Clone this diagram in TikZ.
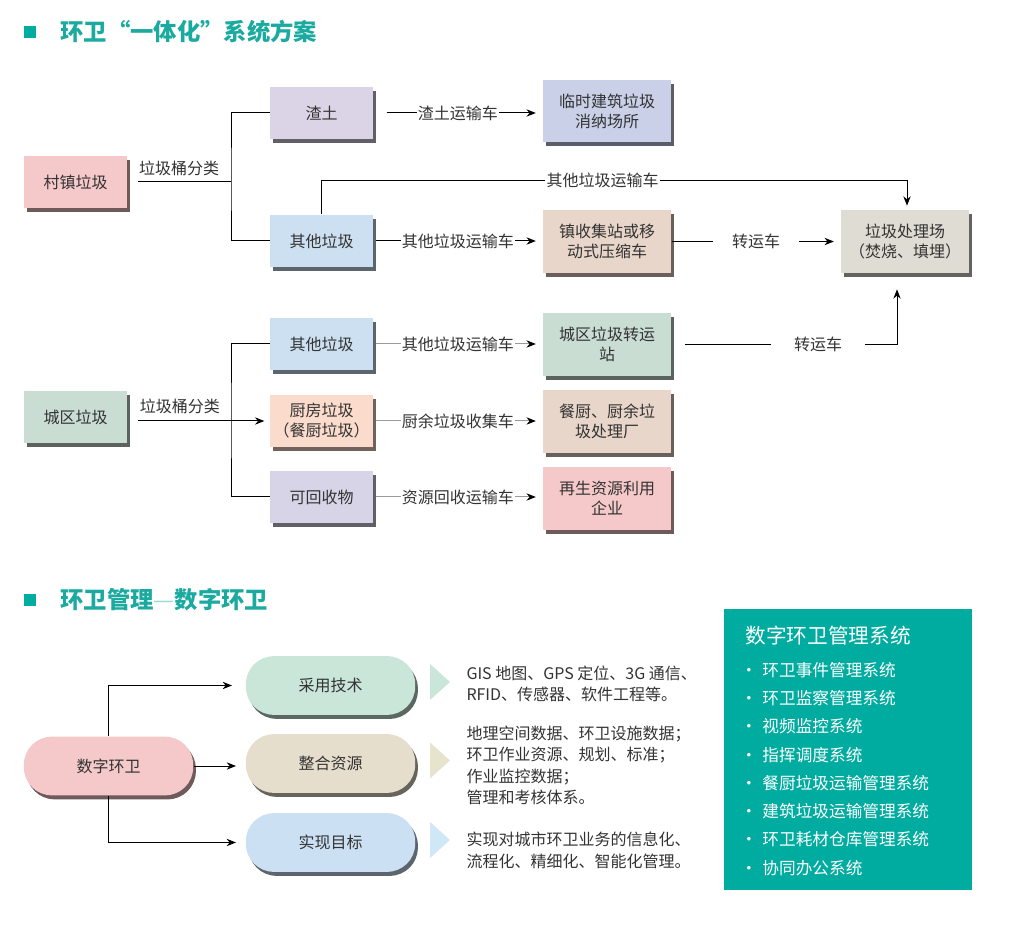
\documentclass[tikz,border=0pt]{standalone}
\usepackage{fontspec}
\setmainfont{Noto Sans CJK SC}
\usetikzlibrary{arrows.meta, positioning, shadows}
\definecolor{HWteal}{HTML}{00ACA0}
\definecolor{HWtitle}{HTML}{1AAA9F}
\definecolor{HWtext}{HTML}{333333}
\definecolor{HWline}{HTML}{9A9A9A}
\definecolor{HWpink}{HTML}{F5C9C9}
\definecolor{HWlilac}{HTML}{DBD4E6}
\definecolor{HWperi}{HTML}{CBD0E9}
\definecolor{HWblue}{HTML}{CCE0F2}
\definecolor{HWtan}{HTML}{E9D6CA}
\definecolor{HWgrey}{HTML}{DEDCD3}
\definecolor{HWgreen}{HTML}{C9DDD2}
\definecolor{HWpeach}{HTML}{FADBCC}
\definecolor{HWmauve}{HTML}{D7D4E7}
\definecolor{HWmint}{HTML}{C9E6D9}
\definecolor{HWsand}{HTML}{E6DECC}
\definecolor{HWsky}{HTML}{CCE0F3}
\definecolor{HWtriA}{HTML}{CAE6DB}
\definecolor{HWtriB}{HTML}{E6E4CC}
\definecolor{HWtriC}{HTML}{CFE7F6}
\newcommand{\hwfont}{\fontsize{12}{15}\selectfont}
\tikzset{
  heading/.style={anchor=west, inner sep=0pt, text=HWtitle, font=\fontsize{17.5}{20}\selectfont\bfseries},
  smallbox/.style={rectangle, fill=#1, minimum width=77pt, minimum height=39pt, inner sep=1pt,
    align=center, text=HWtext, font=\hwfont,
    general shadow={fill=#1!45!black, shadow xshift=2.25pt, shadow yshift=-3pt}},
  bigbox/.style={smallbox=#1, minimum width=96pt, minimum height=47pt},
  pill/.style={rectangle, rounded corners=21pt, fill=#1, minimum width=127pt, minimum height=44pt,
    text=HWtext, font=\hwfont,
    general shadow={fill=#1!45!black, shadow xshift=2pt, shadow yshift=-3pt}},
  carlabel/.style={fill=white, inner xsep=1pt, inner ysep=1pt, text=HWtext, font=\hwfont},
  greyarrow/.style={draw=HWline, -{Stealth[length=7pt, width=5.5pt, color=black]}},
  note/.style={anchor=west, align=left, inner sep=0pt, text=HWtext, font=\fontsize{12}{16}\selectfont},
  panelitem/.style={anchor=west, inner sep=0pt, text=white, font=\fontsize{12.5}{15}\selectfont},
}

\begin{document}
\begin{tikzpicture}[x=0.75pt, y=-0.75pt, >={Stealth[length=7pt, width=5.5pt]}, line width=0.75pt]
\useasboundingbox (0,0) rectangle (1011,948);

\fill[HWteal] (24,26) rectangle (36,38);
\node[heading] (headA) at (60,32) {环卫“一体化”系统方案};
\fill[HWteal] (24,594) rectangle (36,606);
\node[heading] (headB) at (60,600) {环卫管理{\mdseries\color{HWtitle!45}—}数字环卫};

\node[smallbox=HWpink] (cunzhen) at (75.5,182) {村镇垃圾};
\node[smallbox=HWlilac] (zhatu) at (321.5,113) {渣土};
\node[smallbox=HWblue] (qitaA) at (321.5,241) {其他垃圾};
\node[bigbox=HWperi] (xiaona) at (607,111) {临时建筑垃圾\\消纳场所};
\node[bigbox=HWtan] (zhenshou) at (607,241.5) {镇收集站或移\\动式压缩车};
\node[bigbox=HWgrey] (chuli) at (905,241.5) {垃圾处理场\\（焚烧、填埋）};

\node[smallbox=HWgreen] (chengqu) at (75.5,417) {城区垃圾};
\node[smallbox=HWblue] (qitaB) at (321.5,344) {其他垃圾};
\node[smallbox=HWpeach] (chufang) at (321.5,421) {厨房垃圾\\（餐厨垃圾）};
\node[smallbox=HWmauve] (huishou) at (321.5,497) {可回收物};
\node[bigbox=HWgreen] (zhuanyun) at (607,344.5) {城区垃圾转运\\站};
\node[bigbox=HWtan] (canchu) at (607,421.5) {餐厨、厨余垃\\圾处理厂};
\node[bigbox=HWpink] (zaisheng) at (607,498.5) {再生资源利用\\企业};

\coordinate (forkA) at (231,182);
\coordinate (forkB) at (231,421);

\draw[shorten <=8pt] (cunzhen.east) -- node[above=1pt, text=HWtext, font=\hwfont] (sortA) {垃圾桶分类} (forkA);
\draw (zhatu.west) -| (forkA) |- (qitaA.west);
\draw[->, shorten <=10pt, shorten >=5pt] (zhatu.east) -- node[carlabel] (carA) {渣土运输车} (zhatu.east -| xiaona.west);
\draw[->, shorten <=2pt, shorten >=5pt] (qitaA.east) -- node[carlabel] (carB) {其他垃圾运输车} (qitaA.east -| zhenshou.west);
\draw[->, shorten >=5pt] (zhenshou.east) -- node[carlabel, inner xsep=14pt] (carC) {转运车} (chuli.west);
\draw[->, shorten >=3pt] (qitaA.north) -- ++(0,-34) -| node[carlabel, pos=0.24] (carD) {其他垃圾运输车} ([xshift=1.5pt]chuli.north);

\draw[->, shorten <=8pt, shorten >=4pt] (chengqu.east |- chufang.west) -- node[above=2pt, pos=0.37, text=HWtext, font=\hwfont] (sortB) {垃圾桶分类} (chufang.west);
\draw (qitaB.west) -| (forkB) |- (huishou.west);
\draw[greyarrow, shorten <=2pt, shorten >=5pt] (qitaB.east) -- node[carlabel] (carE) {其他垃圾运输车} (qitaB.east -| zhuanyun.west);
\draw[greyarrow, shorten <=2pt, shorten >=5pt] (chufang.east) -- node[carlabel] (carF) {厨余垃圾收集车} (chufang.east -| canchu.west);
\draw[greyarrow, shorten <=2pt, shorten >=5pt] (huishou.east) -- node[carlabel] (carG) {资源回收运输车} (huishou.east -| zaisheng.west);
\draw[->, shorten <=10pt, shorten >=12pt] (zhuanyun.east) -| node[carlabel, pos=0.325, inner xsep=17pt] (carH) {转运车} ([xshift=-6pt]chuli.south);

\node[pill=HWpink] (shuzi) at (108.5,766) {数字环卫};
\node[pill=HWmint] (caiyong) at (330.5,685.5) {采用技术};
\node[pill=HWsand] (zhenghe) at (330.5,763.5) {整合资源};
\node[pill=HWsky] (shixian) at (330.5,842.5) {实现目标};

\draw[->, shorten >=10pt] (shuzi.north) |- (caiyong.west);
\draw[->, shorten >=7pt] (shuzi.east) -- (shuzi.east -| zhenghe.west);
\draw[->, shorten >=7pt] (shuzi.south) |- (shixian.west);

\foreach \ty/\tc in {682/HWtriA, 760.5/HWtriB, 840/HWtriC}
  \fill[\tc] (430,{\ty-18}) -- (450,\ty) -- (430,{\ty+18}) -- cycle;

\node[note] (noteA) at (466,684) {GIS 地图、GPS 定位、3G 通信、\\RFID、传感器、软件工程等。};
\node[note] (noteB) at (466,765.5) {地理空间数据、环卫设施数据；\\环卫作业资源、规划、标准；\\作业监控数据；\\管理和考核体系。};
\node[note] (noteC) at (466,850.5) {实现对城市环卫业务的信息化、\\流程化、精细化、智能化管理。};

\fill[HWteal] (724,609) rectangle (972,890);
\node[panelitem, font=\fontsize{15.5}{18}\selectfont] (panelhead) at (745,636) {数字环卫管理系统};
\foreach \sys [count=\i] in {环卫事件管理系统, 环卫监察管理系统, 视频监控系统, 指挥调度系统,
  餐厨垃圾运输管理系统, 建筑垃圾运输管理系统, 环卫耗材仓库管理系统, 协同办公系统}
  \node[panelitem] (item\i) at (762,{670+28.25*(\i-1)}) {\llap{·\hspace{4pt}}\sys};
\end{tikzpicture}
\end{document}
